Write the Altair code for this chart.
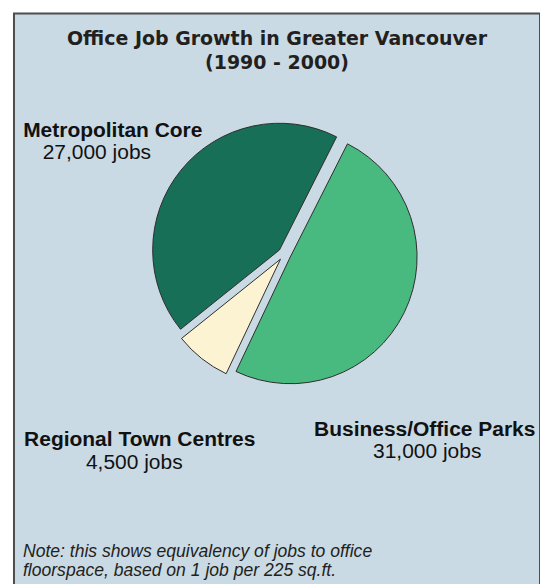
import altair as alt
import pandas as pd

# ---- data ----
categories = ["Business/Office Parks", "Regional Town Centres", "Metropolitan Core"]
jobs = [31000, 4500, 27000]
colors = ["#49ba7f", "#fcf3d2", "#166f56"]
title_lines = ["Office Job Growth in Greater Vancouver", "(1990 - 2000)"]
note_lines = ["Note: this shows equivalency of jobs to office",
              "floorspace, based on 1 job per 225 sq.ft."]

df = pd.DataFrame({"category": categories, "jobs": jobs})
one = pd.DataFrame({"k": [0]})

W, H = 527, 590
CX, CY = 271, 241
R = 127
EXPLODE = 6.5
START = 0.468  # radians, clockwise from 12 o'clock

pie = (
    alt.Chart(df)
    .transform_joinaggregate(total="sum(jobs)")
    .transform_window(cum="sum(jobs)", frame=[None, 0])
    .transform_calculate(
        t0=f"{START} + 2*PI*(datum.cum - datum.jobs)/datum.total",
        t1=f"{START} + 2*PI*datum.cum/datum.total",
    )
    .transform_calculate(mid="(datum.t0 + datum.t1)/2")
    .transform_calculate(
        px=f"{CX} + {EXPLODE}*sin(datum.mid)",
        py=f"{CY} - {EXPLODE}*cos(datum.mid)",
    )
    .mark_arc(outerRadius=R, stroke="#2e2e2e", strokeWidth=1)
    .encode(
        theta=alt.Theta("t0:Q", scale=None),
        theta2="t1:Q",
        x=alt.X("px:Q", scale=None, axis=None),
        y=alt.Y("py:Q", scale=None, axis=None),
        color=alt.Color("category:N", scale=alt.Scale(domain=categories, range=colors), legend=None),
    )
)

title = alt.Chart(one).mark_text(
    font="DejaVu Sans", fontWeight="bold", fontSize=19, color="#231f20",
    align="center", baseline="alphabetic", lineHeight=24,
).encode(x=alt.value(263.5), y=alt.value(32), text=alt.value(title_lines))

note = alt.Chart(one).mark_text(
    font="Liberation Sans", fontStyle="italic", fontSize=17.6, color="#231f20",
    align="left", baseline="alphabetic", lineHeight=20,
).encode(x=alt.value(9), y=alt.value(544), text=alt.value(note_lines))

label_pos = {
    "Metropolitan Core": ((99, 123.7), (83, 145.3)),
    "Business/Office Parks": ((411.5, 423), (414, 445)),
    "Regional Town Centres": ((126, 433), (120.5, 456)),
}

labels = []
for cat in categories:
    (nx, ny), (vx, vy) = label_pos[cat]
    base = alt.Chart(df).transform_filter(alt.datum.category == cat)
    labels.append(
        base.mark_text(font="Liberation Sans", fontWeight="bold", fontSize=21,
                       color="#111111", align="center", baseline="alphabetic")
        .encode(x=alt.value(nx), y=alt.value(ny), text=alt.Text("category:N"))
    )
    labels.append(
        base.transform_calculate(lab="format(datum.jobs, ',') + ' jobs'")
        .mark_text(font="Liberation Sans", fontSize=21, color="#111111",
                   align="center", baseline="alphabetic")
        .encode(x=alt.value(vx), y=alt.value(vy), text=alt.Text("lab:N"))
    )

chart = (
    alt.layer(pie, title, note, *labels)
    .properties(width=W, height=H, padding={"left": 6, "top": 5, "right": 0, "bottom": 0})
    .configure(background="white")
    .configure_view(fill="#c9dae4", stroke="#4d4d4d", strokeWidth=2)
)

chart.save("out.html", embed_options={"renderer": "svg", "actions": False})
